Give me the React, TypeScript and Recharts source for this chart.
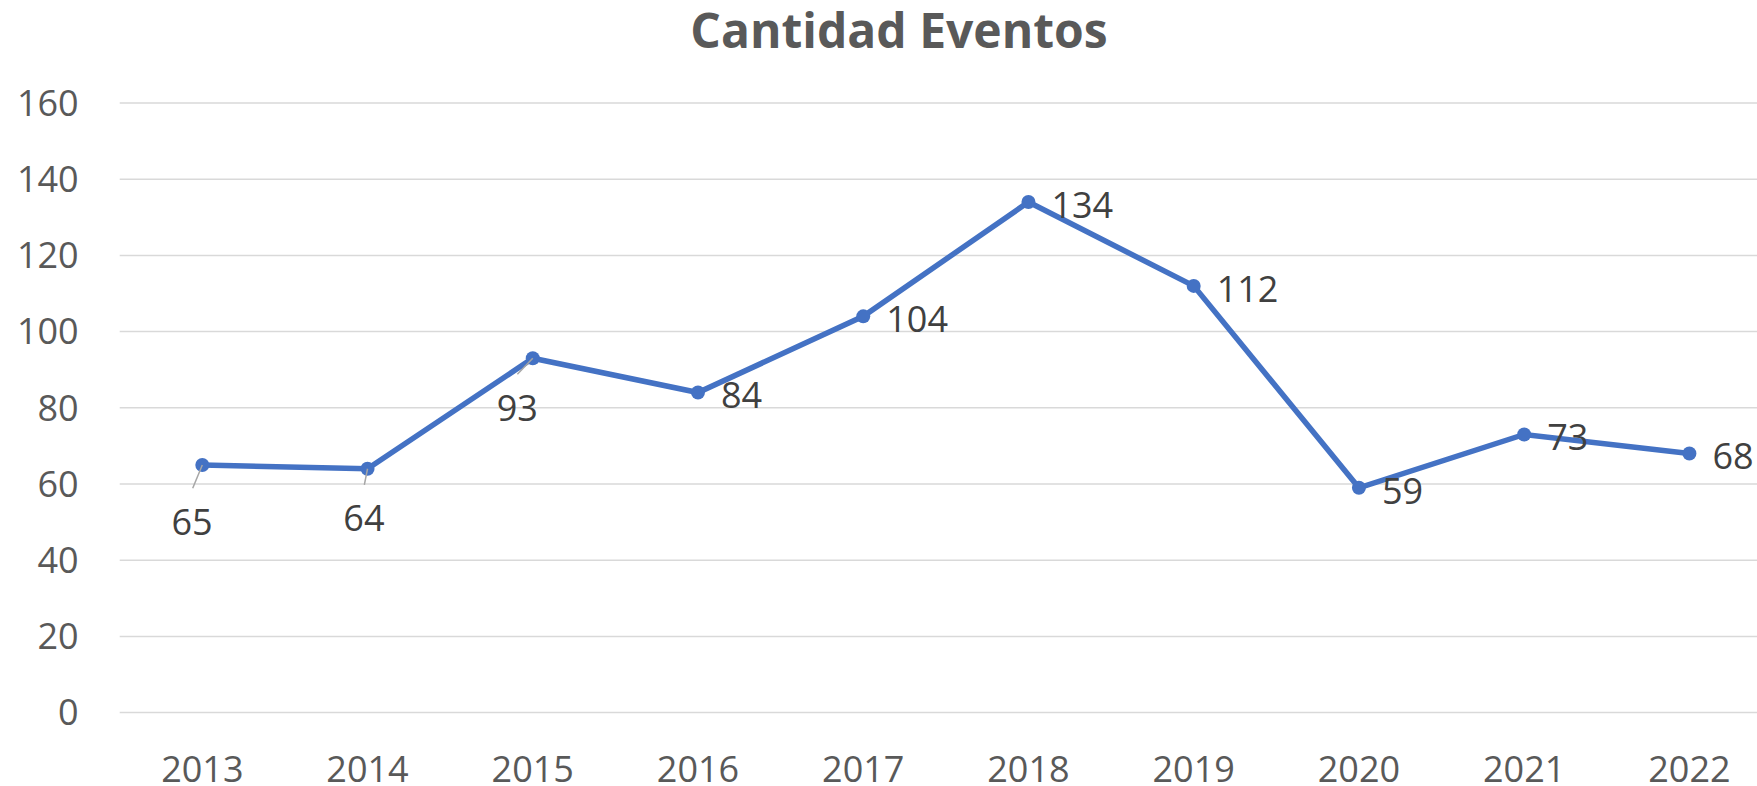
import React from 'react';
import { LineChart, Line, XAxis, YAxis, CartesianGrid, LabelList } from 'recharts';

const years = ['2013', '2014', '2015', '2016', '2017', '2018', '2019', '2020', '2021', '2022'];
const eventos = [65, 64, 93, 84, 104, 134, 112, 59, 73, 68];
const yTicks = [0, 20, 40, 60, 80, 100, 120, 140, 160];

const chartData = years.map((year, i) => ({ year, eventos: eventos[i] }));

// label placement (style config): 'right' = to the right of point, otherwise below with leader line
const labelPlacement = [
  { mode: 'below', dx: -10.3, dy: 56.7, lx: -9.6, ly: 23.3 },
  { mode: 'below', dx: -3.6, dy: 49.5, lx: -3.2, ly: 16.2 },
  { mode: 'below', dx: -15.4, dy: 49.7, lx: -15.4, ly: 16 },
  { mode: 'right' },
  { mode: 'right' },
  { mode: 'right' },
  { mode: 'right' },
  { mode: 'right' },
  { mode: 'right' },
  { mode: 'right' },
];

const FONT = '"Open Sans", "Liberation Sans", sans-serif';
const FS = 36;

const DataLabel = (props: any) => {
  const { x, y, value, index } = props;
  const p = labelPlacement[index] || { mode: 'right' };
  const base = 0.357 * FS;
  if (p.mode === 'right') {
    return (
      <text x={x + 23} y={y + 3 + base} textAnchor="start" fill="#404040" fontSize={FS} fontFamily={FONT}>
        {value}
      </text>
    );
  }
  return (
    <g>
      <line x1={x} y1={y} x2={x + p.lx} y2={y + p.ly} stroke="#A6A6A6" strokeWidth={1.5} />
      <text x={x + p.dx} y={y + p.dy + base} textAnchor="middle" fill="#404040" fontSize={FS} fontFamily={FONT}>
        {value}
      </text>
    </g>
  );
};

export default function App() {
  return (
    <div
      style={{
        position: 'fixed',
        left: 0,
        top: 0,
        width: 1757,
        height: 786,
        overflow: 'hidden',
        background: '#ffffff',
      }}
    >
      <svg width={1757} height={80} style={{ position: 'absolute', left: 0, top: 0 }}>
        <text
          x={899}
          y={48.3}
          textAnchor="middle"
          fill="#595959"
          fontSize={48}
          fontWeight={700}
          fontFamily={FONT}
        >
          Cantidad Eventos
        </text>
      </svg>
      <div style={{ position: 'absolute', left: 0, top: 0 }}>
        <LineChart
          width={1772}
          height={786}
          data={chartData}
          margin={{ top: 103, right: 0, bottom: 0, left: 0 }}
        >
          <CartesianGrid horizontal={true} vertical={false} stroke="#D9D9D9" strokeWidth={1.5} />
          <XAxis
            dataKey="year"
            axisLine={false}
            tickLine={false}
            tickSize={0}
            tickMargin={43.4}
            height={73.4}
            padding={{ left: 82.6, right: 82.6 }}
            interval={0}
            tick={{ fill: '#595959', fontSize: FS, fontFamily: FONT }}
          />
          <YAxis
            domain={[0, 160]}
            ticks={yTicks}
            axisLine={false}
            tickLine={false}
            tickSize={0}
            tickMargin={41}
            width={119.7}
            interval={0}
            tick={{ fill: '#595959', fontSize: FS, fontFamily: FONT }}
          />
          <Line
            type="linear"
            dataKey="eventos"
            stroke="#4472C4"
            strokeWidth={5.5}
            dot={{ r: 7, fill: '#4472C4', stroke: '#4472C4', strokeWidth: 0 }}
            activeDot={false}
            isAnimationActive={false}
          >
            <LabelList dataKey="eventos" content={DataLabel} />
          </Line>
        </LineChart>
      </div>
    </div>
  );
}
